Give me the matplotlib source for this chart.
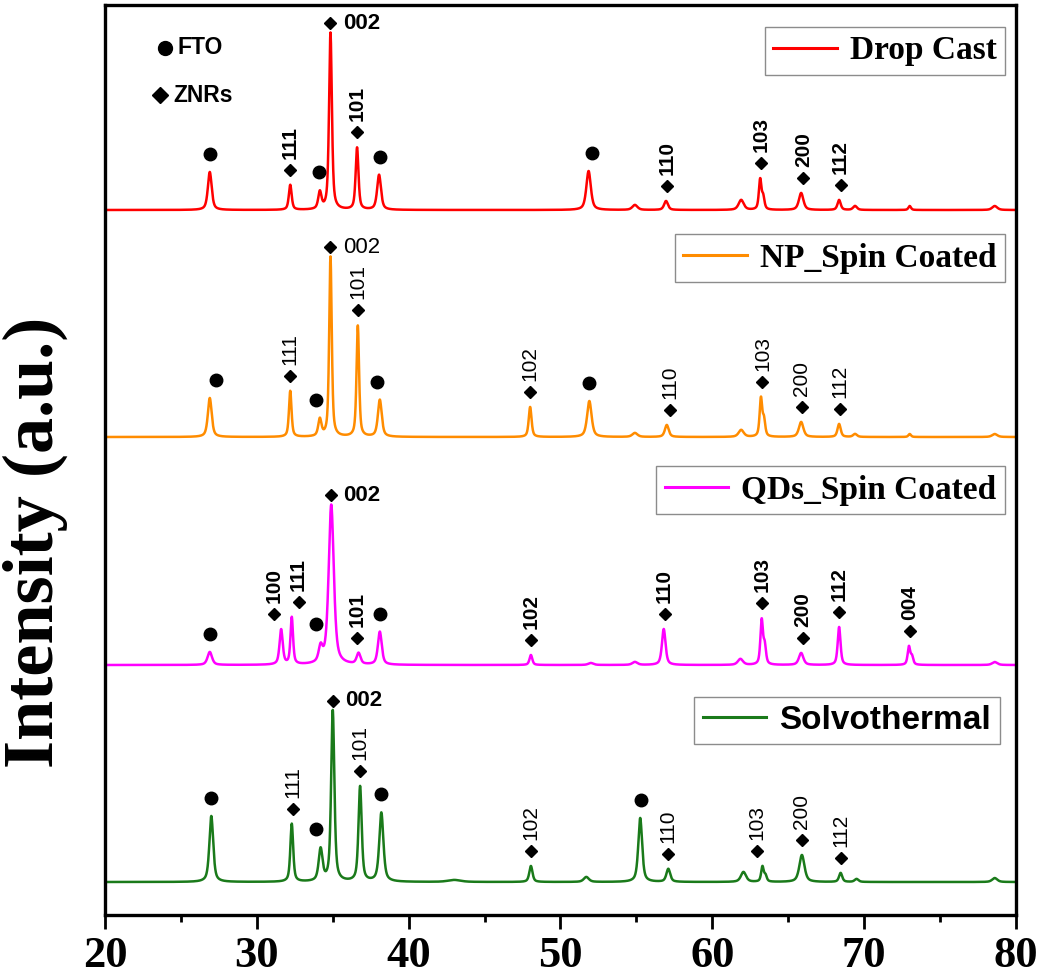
import numpy as np
import matplotlib
matplotlib.use("Agg")
import matplotlib.pyplot as plt

# ---- 2-theta range ----
two_theta = np.linspace(20, 80, 6001)

# ---- peak tables (position in deg, height in a.u., FWHM in deg) ----
drop_pos = [26.9, 32.2, 34.15, 34.85, 36.6, 38.05, 51.85, 54.9, 56.95, 61.9, 63.15, 63.35, 65.85, 68.35, 69.4, 73.0, 78.6]
drop_height = [38, 25, 17, 177, 62, 35, 39, 5, 9, 10, 30, 12, 17, 10, 4, 4, 4]
drop_fwhm = [0.3, 0.22, 0.25, 0.22, 0.22, 0.3, 0.35, 0.4, 0.3, 0.4, 0.2, 0.2, 0.35, 0.25, 0.3, 0.2, 0.4]

np_pos = [26.9, 32.2, 34.15, 34.85, 36.65, 38.1, 48.0, 51.9, 54.9, 57.0, 61.9, 63.2, 63.4, 65.85, 68.35, 69.4, 73.0, 78.6]
np_height = [39, 46, 17, 180, 111, 37, 30, 36, 4, 12, 7, 38, 16, 15, 13, 3, 3, 3]
np_fwhm = [0.3, 0.2, 0.25, 0.2, 0.2, 0.3, 0.22, 0.35, 0.4, 0.3, 0.4, 0.2, 0.2, 0.35, 0.25, 0.3, 0.2, 0.4]

qd_pos = [26.9, 31.6, 32.3, 34.2, 34.9, 36.7, 38.1, 48.05, 52.0, 54.9, 56.8, 61.85, 63.25, 63.45, 65.85, 68.35, 72.95, 73.15, 78.6]
qd_height = [13, 35, 47, 15, 160, 11, 33, 10, 2, 3, 36, 6, 44, 18, 12, 38, 18, 8, 3]
qd_fwhm = [0.35, 0.25, 0.2, 0.3, 0.4, 0.3, 0.3, 0.22, 0.4, 0.4, 0.28, 0.4, 0.2, 0.2, 0.35, 0.22, 0.2, 0.2, 0.4]

solvo_pos = [27.0, 32.3, 34.2, 35.0, 36.8, 38.2, 43.0, 48.05, 51.7, 55.25, 57.1, 62.05, 63.3, 63.5, 65.9, 68.45, 69.5, 78.6]
solvo_height = [66, 58, 32, 171, 95, 69, 2, 16, 5, 64, 13, 10, 15, 6, 27, 9, 3, 4]
solvo_fwhm = [0.3, 0.22, 0.3, 0.25, 0.25, 0.32, 1.0, 0.25, 0.4, 0.3, 0.3, 0.4, 0.2, 0.2, 0.4, 0.25, 0.3, 0.4]

sample_names = ["Drop Cast", "NP_Spin Coated", "QDs_Spin Coated", "Solvothermal"]
sample_colors = ["#FF0000", "#FF8C00", "#FF00FF", "#1A7A1A"]
sample_offsets = [705, 478, 250, 33]

# ---- reflection labels: (2-theta, phase, hkl) ----
drop_marks = [(26.9, "FTO", ""), (32.2, "ZnO", "111"), (34.1, "FTO", ""), (34.85, "ZnO", "002"),
              (36.6, "ZnO", "101"), (38.1, "FTO", ""), (52.1, "FTO", ""), (57.0, "ZnO", "110"),
              (63.2, "ZnO", "103"), (66.0, "ZnO", "200"), (68.45, "ZnO", "112")]
np_marks = [(27.3, "FTO", ""), (32.2, "ZnO", "111"), (33.9, "FTO", ""), (34.85, "ZnO", "002"),
            (36.65, "ZnO", "101"), (37.9, "FTO", ""), (48.0, "ZnO", "102"), (51.9, "FTO", ""),
            (57.2, "ZnO", "110"), (63.3, "ZnO", "103"), (65.9, "ZnO", "200"), (68.4, "ZnO", "112")]
qd_marks = [(26.9, "FTO", ""), (31.15, "ZnO", "100"), (32.75, "ZnO", "111"), (33.9, "FTO", ""),
            (34.9, "ZnO", "002"), (36.6, "ZnO", "101"), (38.1, "FTO", ""), (48.05, "ZnO", "102"),
            (56.85, "ZnO", "110"), (63.3, "ZnO", "103"), (65.95, "ZnO", "200"), (68.35, "ZnO", "112"),
            (73.0, "ZnO", "004")]
solvo_marks = [(27.0, "FTO", ""), (32.4, "ZnO", "111"), (33.9, "FTO", ""), (35.0, "ZnO", "002"),
               (36.8, "ZnO", "101"), (38.2, "FTO", ""), (48.05, "ZnO", "102"), (55.3, "FTO", ""),
               (57.1, "ZnO", "110"), (62.95, "ZnO", "103"), (65.9, "ZnO", "200"), (68.45, "ZnO", "112")]

peak_tables = [(drop_pos, drop_height, drop_fwhm), (np_pos, np_height, np_fwhm),
               (qd_pos, qd_height, qd_fwhm), (solvo_pos, solvo_height, solvo_fwhm)]
mark_tables = [drop_marks, np_marks, qd_marks, solvo_marks]
label_weights = ["bold", "normal", "bold", "normal"]


def pseudo_voigt(x, center, height, fwhm, eta=0.6):
    g = np.exp(-4 * np.log(2) * ((x - center) / fwhm) ** 2)
    l = 1.0 / (1.0 + 4 * ((x - center) / fwhm) ** 2)
    return height * (eta * l + (1 - eta) * g)


def pattern(x, positions, heights, widths):
    y = np.zeros_like(x)
    for c, h, w in zip(positions, heights, widths):
        y += pseudo_voigt(x, c, h, w)
    return y


serif = "Liberation Serif"
sans = "Liberation Sans"

fig = plt.figure(figsize=(10.46, 9.8), dpi=100)
ax = fig.add_axes([0.1004, 0.0663, 0.8709, 0.9286])

legend_anchors = [(0.988, 0.976), (0.988, 0.748), (0.988, 0.493), (0.982, 0.240)]
legend_fonts = [serif, serif, serif, sans]

legends = []
for i, name in enumerate(sample_names):
    pos, hgt, fw = peak_tables[i]
    y = pattern(two_theta, pos, hgt, fw) + sample_offsets[i]
    line, = ax.plot(two_theta, y, color=sample_colors[i], lw=1.8, label=name)

    for x0, phase, hkl in mark_tables[i]:
        half = 0.25 if hkl == "002" else 0.5
        window = (two_theta > x0 - half) & (two_theta < x0 + half)
        top = y[window].max()
        if hkl == "002":
            my = top + 9
            ax.plot(x0, my, marker="D", ms=6.5, color="black", ls="none")
            ax.text(x0 + 0.8, my, "002", fontsize=16, family=sans,
                    fontweight="normal" if i == 1 else "bold",
                    ha="left", va="center")
        elif phase == "FTO":
            my = top + 18
            ax.plot(x0, my, marker="o", ms=9, color="black", ls="none")
        else:
            my = top + 15
            ax.plot(x0, my, marker="D", ms=6.5, color="black", ls="none")
            ax.text(x0, my + 11, hkl, fontsize=15, family=sans, fontweight=label_weights[i],
                    rotation=90, ha="center", va="bottom")

    leg = ax.legend(handles=[line], loc="upper right", bbox_to_anchor=legend_anchors[i],
                    prop={"family": legend_fonts[i], "weight": "bold", "size": 24},
                    frameon=True, fancybox=False, edgecolor="#8c8c8c", framealpha=1,
                    handlelength=1.9, handletextpad=0.4, borderpad=0.25, borderaxespad=0)
    leg.get_frame().set_linewidth(1.0)
    for lh in leg.get_lines():
        lh.set_linewidth(2.2)
    legends.append(leg)

for leg in legends[:-1]:
    ax.add_artist(leg)

# phase key
ax.plot(23.95, 867, marker="o", ms=10, color="black", ls="none")
ax.text(24.75, 867, "FTO", fontsize=16.5, family=sans, fontweight="bold", va="center", ha="left")
ax.plot(23.65, 820, marker="D", ms=8, color="black", ls="none")
ax.text(24.5, 820, "ZNRs", fontsize=16.5, family=sans, fontweight="bold", va="center", ha="left")

ax.set_xlim(20, 80)
ax.set_ylim(0, 910)
ax.set_xticks(np.arange(20, 81, 10))
ax.set_xticks(np.arange(25, 80, 10), minor=True)
ax.set_yticks([])
ax.tick_params(axis="x", which="major", direction="out", length=10, width=2, pad=5)
ax.tick_params(axis="x", which="minor", direction="out", length=5, width=2)
for lab in ax.get_xticklabels():
    lab.set_fontfamily(serif)
    lab.set_fontweight("bold")
    lab.set_fontsize(32)
for sp in ax.spines.values():
    sp.set_linewidth(2.4)

ax.set_ylabel("Intensity (a.u.)", fontsize=52, family=serif, fontweight="bold")
ax.yaxis.set_label_coords(-0.041, 0.41)

fig.savefig("out.png", dpi=100)
